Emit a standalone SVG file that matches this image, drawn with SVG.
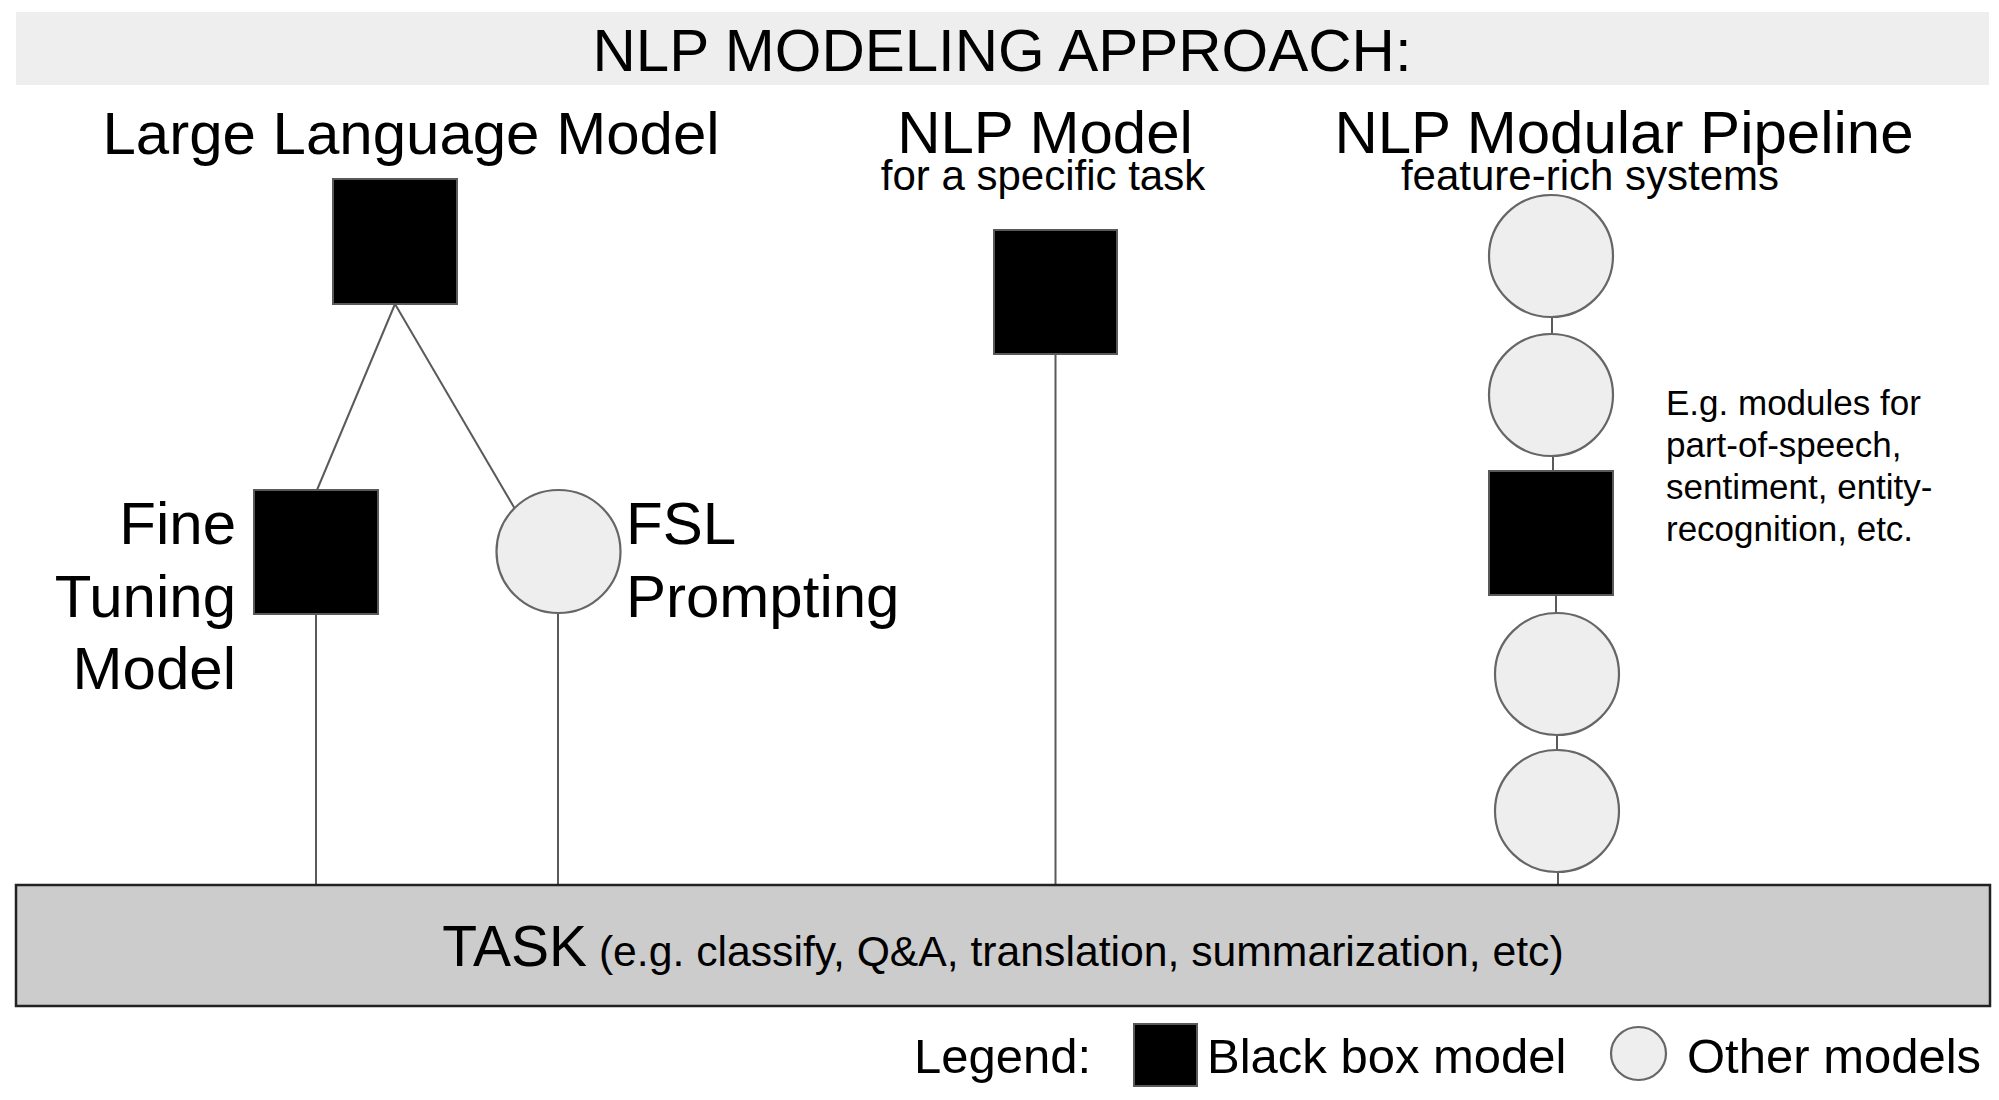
<svg xmlns="http://www.w3.org/2000/svg" width="1999" height="1100" viewBox="0 0 1999 1100">
<style>
text{font-family:"Liberation Sans",Arial,sans-serif;fill:#000}
.big{font-size:60px}
.sub{font-size:42px}
.note{font-size:35px}
.leg{font-size:49px}
.bb{fill:#000;stroke:#595959;stroke-width:2}
.om{fill:#eeeeee;stroke:#666;stroke-width:2.2}
.ln{stroke:#5a5a5a;stroke-width:2;fill:none}
</style>
<rect x="16" y="12" width="1973" height="73" fill="#eeeeee"/>
<text class="big" x="1002" y="71" text-anchor="middle">NLP MODELING APPROACH:</text>
<text class="big" x="411" y="154" text-anchor="middle">Large Language Model</text>
<text class="big" x="1045" y="153" text-anchor="middle">NLP Model</text>
<text class="sub" x="1043" y="190" text-anchor="middle">for a specific task</text>
<text class="big" x="1624" y="153" text-anchor="middle">NLP Modular Pipeline</text>
<text class="sub" x="1590" y="190" text-anchor="middle">feature-rich systems</text>
<g id="connectors">
<line class="ln" x1="395" y1="304" x2="317" y2="490"/>
<line class="ln" x1="395" y1="304" x2="515" y2="509"/>
<line class="ln" x1="316" y1="614" x2="316" y2="885"/>
<line class="ln" x1="558" y1="613" x2="558" y2="885"/>
<line class="ln" x1="1055.5" y1="354" x2="1055.5" y2="885"/>
<line class="ln" x1="1552" y1="317" x2="1552" y2="334"/>
<line class="ln" x1="1553" y1="456" x2="1553" y2="471"/>
<line class="ln" x1="1556" y1="595" x2="1556" y2="613"/>
<line class="ln" x1="1557" y1="735" x2="1557" y2="750"/>
<line class="ln" x1="1558" y1="872" x2="1558" y2="885"/>
</g>
<g id="llm"><rect class="bb" x="333" y="179" width="124" height="125"/></g>
<g id="fine-tuning">
<rect class="bb" x="254" y="490" width="124" height="124"/>
<text class="big" x="236" y="544" text-anchor="end">Fine</text>
<text class="big" x="236" y="617" text-anchor="end">Tuning</text>
<text class="big" x="236" y="689" text-anchor="end">Model</text>
</g>
<g id="fsl">
<ellipse class="om" cx="558.5" cy="551.5" rx="62" ry="61.5"/>
<text class="big" x="626" y="544">FSL</text>
<text class="big" x="626" y="617">Prompting</text>
</g>
<g id="nlp-model"><rect class="bb" x="994" y="230" width="123" height="124"/></g>
<g id="pipe-1"><ellipse class="om" cx="1551" cy="256" rx="62" ry="61"/></g>
<g id="pipe-2"><ellipse class="om" cx="1551" cy="395" rx="62" ry="61"/></g>
<g id="pipe-3"><rect class="bb" x="1489" y="471" width="124" height="124"/></g>
<g id="pipe-4"><ellipse class="om" cx="1557" cy="674" rx="62" ry="61"/></g>
<g id="pipe-5"><ellipse class="om" cx="1557" cy="811" rx="62" ry="61"/></g>
<g id="pipe-note">
<text class="note" x="1666" y="415">E.g. modules for</text>
<text class="note" x="1666" y="457">part-of-speech,</text>
<text class="note" x="1666" y="499">sentiment, entity-</text>
<text class="note" x="1666" y="541">recognition, etc.</text>
</g>
<g id="task">
<rect x="16" y="885" width="1974" height="121" fill="#cccccc" stroke="#222" stroke-width="2.5"/>
<text x="1003" y="966" text-anchor="middle"><tspan font-size="57">TASK</tspan><tspan font-size="42.7"> (e.g. classify, Q&amp;A, translation, summarization, etc)</tspan></text>
</g>
<g id="legend">
<text class="leg" x="914" y="1073">Legend:</text>
<rect class="bb" x="1134" y="1024" width="63" height="62"/>
<text class="leg" x="1207" y="1073">Black box model</text>
<ellipse class="om" cx="1638.5" cy="1053.5" rx="27.5" ry="26.5"/>
<text class="leg" x="1687" y="1073">Other models</text>
</g>
</svg>
